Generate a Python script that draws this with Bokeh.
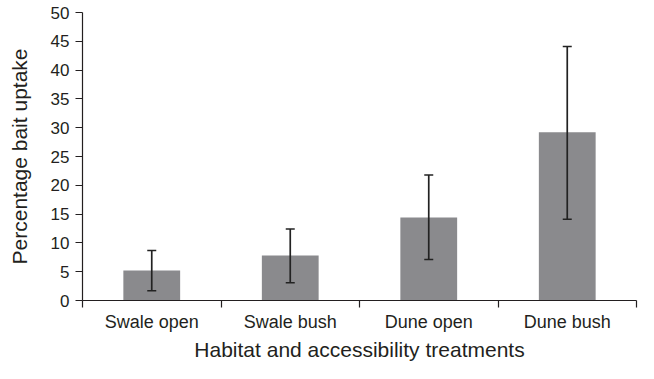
from bokeh.plotting import figure
from bokeh.models import Range1d, FixedTicker, Whisker, TeeHead, ColumnDataSource
from bokeh.embed import file_html
from bokeh.resources import INLINE

categories = ["Swale open", "Swale bush", "Dune open", "Dune bush"]
means = [5.2, 7.8, 14.4, 29.2]
lower = [1.7, 3.1, 7.1, 14.1]
upper = [8.7, 12.4, 21.8, 44.1]
y_ticks = [0, 5, 10, 15, 20, 25, 30, 35, 40, 45, 50]

x_centers = [i + 0.5 for i in range(len(categories))]
boundaries = list(range(len(categories) + 1))

src = ColumnDataSource(dict(x=x_centers, mean=means, lower=lower, upper=upper))

FONT = "Liberation Sans"
TXT = "#231f20"
AX = "#231f20"
ERR = "#222222"

p = figure(width=638, height=363,
           x_range=Range1d(0, len(categories)), y_range=Range1d(0, 50),
           output_backend="svg", toolbar_location=None,
           min_border_left=82, min_border_right=2,
           min_border_top=12, min_border_bottom=63)

p.vbar(x="x", top="mean", width=0.41, source=src,
       fill_color="#8a8a8d", line_color=None)

whisk = Whisker(base="x", lower="lower", upper="upper", source=src,
                line_color=ERR, line_width=1.7, level="annotation",
                upper_head=TeeHead(size=9, line_color=ERR, line_width=1.5),
                lower_head=TeeHead(size=9, line_color=ERR, line_width=1.5))
p.add_layout(whisk)

p.grid.visible = False
p.outline_line_color = None
p.background_fill_color = "white"
p.border_fill_color = "white"

xa = p.xaxis[0]
xa.ticker = FixedTicker(ticks=x_centers, minor_ticks=boundaries)
xa.major_label_overrides = {xc: c for xc, c in zip(x_centers, categories)}
xa.major_tick_out = 0
xa.major_tick_in = 0
xa.minor_tick_out = 7
xa.minor_tick_in = 0
xa.minor_tick_line_color = AX
xa.axis_line_color = AX
xa.axis_line_width = 1.2
xa.minor_tick_line_width = 1.2
xa.major_label_text_font = FONT
xa.major_label_text_font_size = "18px"
xa.major_label_text_color = TXT
xa.major_label_standoff = 4
xa.axis_label = "Habitat and accessibility treatments"
xa.axis_label_text_font = FONT
xa.axis_label_text_font_size = "21px"
xa.axis_label_text_font_style = "normal"
xa.axis_label_text_color = TXT
xa.axis_label_standoff = 3

ya = p.yaxis[0]
ya.ticker = FixedTicker(ticks=y_ticks)
ya.major_tick_out = 7
ya.major_tick_in = 0
ya.minor_tick_out = 0
ya.minor_tick_in = 0
ya.major_tick_line_color = AX
ya.major_tick_line_width = 1.2
ya.axis_line_color = AX
ya.axis_line_width = 1.2
ya.major_label_text_font = FONT
ya.major_label_text_font_size = "17px"
ya.major_label_text_color = TXT
ya.major_label_standoff = 6
ya.axis_label = "Percentage bait uptake"
ya.axis_label_text_font = FONT
ya.axis_label_text_font_size = "21px"
ya.axis_label_text_font_style = "normal"
ya.axis_label_text_color = TXT
ya.axis_label_standoff = 17

open("out.html", "w").write(file_html(p, INLINE))
